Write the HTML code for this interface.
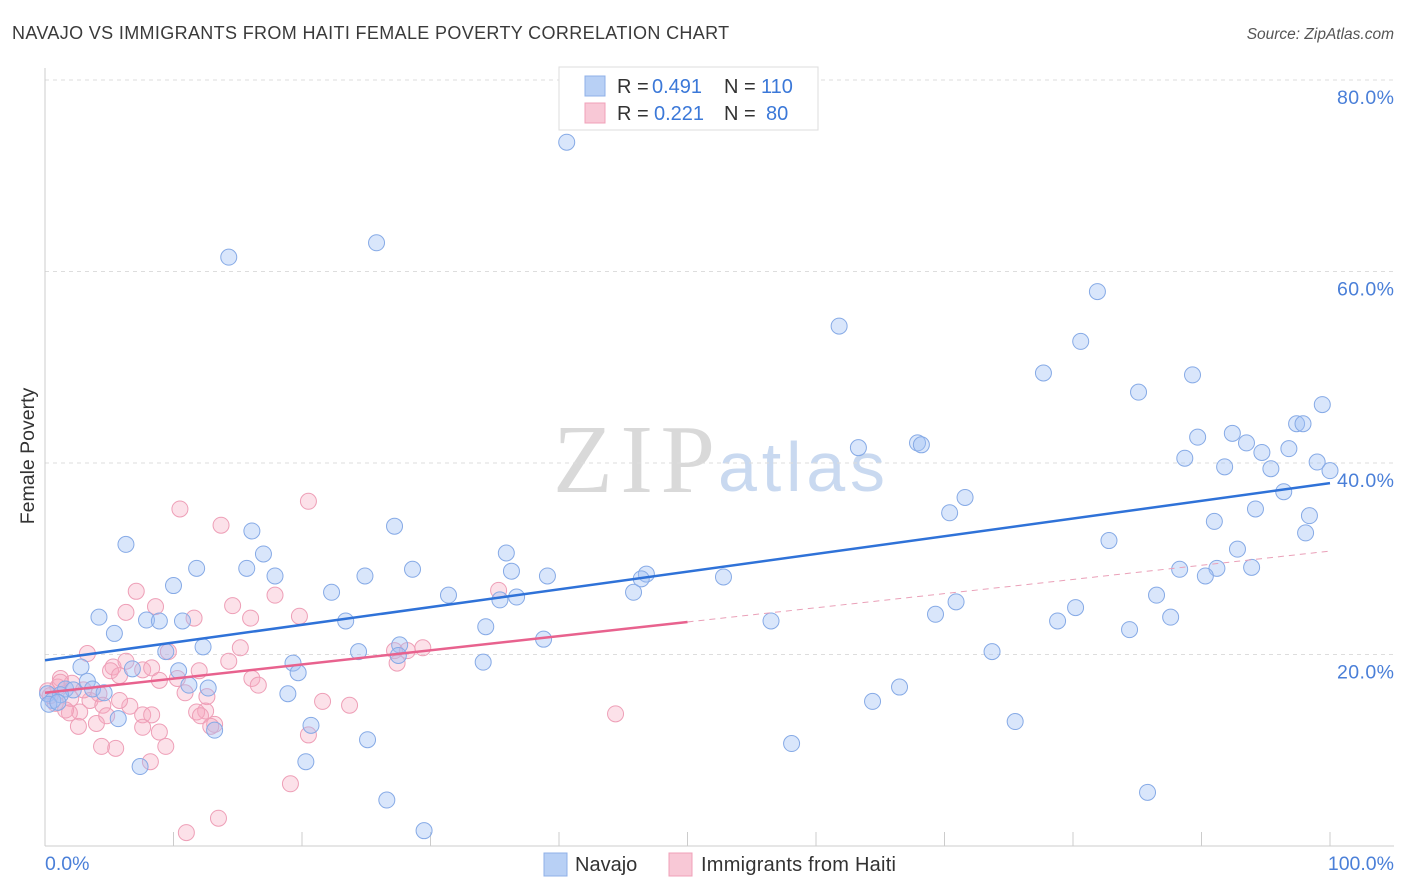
<!DOCTYPE html>
<html><head><meta charset="utf-8"><style>
body{margin:0;background:#fff;font-family:"Liberation Sans",sans-serif;}
</style></head><body>
<svg id="chart" width="1406" height="892" xmlns="http://www.w3.org/2000/svg" style="display:block">
<text x="12" y="39" font-size="18" letter-spacing="0.35" fill="#3a3a3a" font-family="Liberation Sans, sans-serif">NAVAJO VS IMMIGRANTS FROM HAITI FEMALE POVERTY CORRELATION CHART</text>
<text x="1394" y="39" font-size="15.5" fill="#555" text-anchor="end" font-style="italic">Source: ZipAtlas.com</text>
<g>
<text x="553" y="492" font-size="98" fill="#d9d9d9" font-family="Liberation Serif, serif" textLength="162">ZIP</text>
<text x="718" y="491" font-size="70" fill="#c9d9f0" font-family="Liberation Sans, sans-serif" textLength="167">atlas</text>
</g>
<g id="grid"></g>
<g id="axes"></g>
<g id="pinkPts"></g>
<g id="bluePts"></g>
<g id="trends"></g>
<text transform="translate(34,456) rotate(-90)" font-size="19.5" fill="#333" text-anchor="middle">Female Poverty</text>
<text x="45" y="870" font-size="19.5" fill="#4a7fd8">0.0%</text>
<text x="1394" y="870" font-size="19.5" fill="#4a7fd8" text-anchor="end">100.0%</text>
<g>
<rect x="559" y="67" width="259" height="63" fill="#fff" stroke="#ddd"/>
<rect x="585" y="76" width="20" height="20" fill="#b8d0f5" stroke="#8fb0e8"/>
<rect x="585" y="103" width="20" height="20" fill="#f8c8d6" stroke="#f0a0b8"/>
<text font-size="20" fill="#333"><tspan x="617" y="93">R =</tspan><tspan x="652" y="93" fill="#3b78d8">0.491</tspan><tspan x="724" y="93">N =</tspan><tspan x="761" y="93" fill="#3b78d8">110</tspan></text>
<text font-size="20" fill="#333"><tspan x="617" y="120">R =</tspan><tspan x="654" y="120" fill="#3b78d8">0.221</tspan><tspan x="724" y="120">N =</tspan><tspan x="766" y="120" fill="#3b78d8">80</tspan></text>
</g>
<g>
<rect x="544" y="853" width="23" height="23" fill="#b8d0f5" stroke="#8fb0e8"/>
<text x="575" y="871" font-size="20" fill="#333">Navajo</text>
<rect x="669" y="853" width="23" height="23" fill="#f8c8d6" stroke="#f0a0b8"/>
<text x="701" y="871" font-size="20" fill="#333" textLength="195">Immigrants from Haiti</text>
</g>
</svg>
<script>
const yTicks=[20,40,60,80];
const xTicks=[0,10,20,30,40,50,60,70,80,90,100];
const blueX=[40.6,14.3,25.8,81.9,61.8,80.6,77.7,89.3,85.1,99.4,97.4,97.9,92.4,89.7,93.5,67.9,68.2,63.3,96.8,94.7,88.7,99.0,91.8,95.4,100.0,96.4,71.6,94.2,70.4,98.4,91.0,16.1,27.2,98.1,6.3,82.8,17.0,35.9,92.8,11.8,36.3,15.7,28.6,93.9,91.2,88.3,17.9,24.9,39.1,46.8,52.8,46.4,10.0,22.3,31.4,90.3,45.8,35.4,36.7,86.5,70.9,80.2,4.2,69.3,7.9,8.9,10.7,23.4,56.5,78.8,87.6,34.3,84.4,5.4,38.8,12.3,27.6,9.4,24.4,73.7,27.5,34.1,19.3,2.8,10.4,19.7,6.8,3.3,1.6,3.7,2.2,4.6,11.2,12.7,18.9,0.2,1.2,0.6,0.3,1.0,64.4,66.5,5.7,20.7,13.2,75.5,25.1,58.1,20.3,7.4,26.6,85.8,29.5];
const blueY=[73.5,61.5,63.0,57.9,54.3,52.7,49.4,49.2,47.4,46.1,44.1,44.1,43.1,42.7,42.1,42.1,41.9,41.6,41.5,41.1,40.5,40.1,39.6,39.4,39.2,37.0,36.4,35.2,34.8,34.5,33.9,32.9,33.4,32.7,31.5,31.9,30.5,30.6,31.0,29.0,28.7,29.0,28.9,29.1,29.0,28.9,28.2,28.2,28.2,28.4,28.1,27.9,27.2,26.5,26.2,28.2,26.5,25.7,26.0,26.2,25.5,24.9,23.9,24.2,23.6,23.5,23.5,23.5,23.5,23.5,23.9,22.9,22.6,22.2,21.6,20.8,21.0,20.3,20.3,20.3,19.9,19.2,19.1,18.7,18.3,18.1,18.5,17.2,16.4,16.4,16.3,16.0,16.8,16.5,15.9,15.9,15.8,15.2,14.8,15.0,15.1,16.6,13.3,12.6,12.1,13.0,11.1,10.7,8.8,8.3,4.8,5.6,1.6];
const pinkX=[10.5,20.5,13.7,7.1,6.3,8.6,11.6,14.6,17.9,16.0,19.8,35.3,3.3,9.6,5.3,6.3,15.2,14.3,7.6,8.3,5.1,5.8,12.0,27.2,28.2,29.4,27.4,1.2,1.0,2.1,8.9,10.3,16.1,16.6,4.2,3.5,2.0,4.5,12.6,10.9,6.6,5.8,21.6,23.7,2.7,1.9,4.8,7.6,8.3,12.5,11.8,12.1,1.6,2.6,4.0,7.6,8.9,13.2,12.9,20.5,4.4,5.5,9.4,8.2,19.1,13.5,11.0,44.4,0.4,0.8,0.2,1.2,3.0];
const pinkY=[35.2,36.0,33.5,26.6,24.4,25.0,23.8,25.1,26.2,23.8,24.0,26.7,20.1,20.3,18.7,19.3,20.7,19.3,18.4,18.6,18.3,17.8,18.3,20.4,20.4,20.7,19.1,17.5,16.6,17.0,17.3,17.5,17.5,16.8,15.9,15.2,15.4,14.7,15.6,16.0,14.6,15.2,15.1,14.7,14.0,13.9,13.6,13.7,13.7,14.1,14.0,13.6,14.2,12.5,12.8,12.4,11.9,12.7,12.5,11.6,10.4,10.2,10.4,8.8,6.5,2.9,1.4,13.8,15.7,14.9,16.2,17.1,16.3];
const blueTrend=[19.4,37.9];
const pinkTrend=[16.0,30.8];
const pinkSolidEnd=50;
const NS='http://www.w3.org/2000/svg';
function sx(v){return 45+v*12.85;}
function sy(v){return 846-v*9.575;}
function mk(parent,tag,attrs){const e=document.createElementNS(NS,tag);for(const k in attrs)e.setAttribute(k,attrs[k]);document.getElementById(parent).appendChild(e);return e;}
yTicks.forEach(t=>{
 const l=mk('grid','line',{x1:45,x2:1394,y1:sy(t),y2:sy(t),stroke:'#ddd','stroke-dasharray':'4,4'});
 
 
 const tx=mk('grid','text',{x:1394,y:sy(t)+24,'font-size':19.5,fill:'#4a7fd8','text-anchor':'end',textLength:57});
 tx.textContent=t.toFixed(1)+'%';
 
 
});
const ax=mk('axes','line',{x1:45,x2:45,y1:68,y2:846,stroke:'#ccc'});


const bx=mk('axes','line',{x1:45,x2:1394,y1:846,y2:846,stroke:'#ccc'});


xTicks.forEach(t=>{
 const l=mk('axes','line',{x1:sx(t),x2:sx(t),y1:832,y2:846,stroke:'#ccc'});
 
 
});
blueX.forEach((v,i)=>{
 const c=mk('bluePts','circle',{cx:sx(v),cy:sy(blueY[i]),r:8,fill:'rgba(160,192,245,0.4)',stroke:'#86aae6','stroke-width':1});
 
 
});
pinkX.forEach((v,i)=>{
 const c=mk('pinkPts','circle',{cx:sx(v),cy:sy(pinkY[i]),r:8,fill:'rgba(245,170,192,0.35)',stroke:'#ee9fb7','stroke-width':1});
 
 
});
const bt=mk('trends','line',{x1:sx(0),y1:sy(blueTrend[0]),x2:sx(100),y2:sy(blueTrend[1]),stroke:'#2f72d8','stroke-width':2.5});


const pm=pinkTrend[0]+(pinkTrend[1]-pinkTrend[0])*pinkSolidEnd/100;
const pt=mk('trends','line',{x1:sx(0),y1:sy(pinkTrend[0]),x2:sx(pinkSolidEnd),y2:sy(pm),stroke:'#e8628e','stroke-width':2.5});


const pd=mk('trends','line',{x1:sx(pinkSolidEnd),y1:sy(pm),x2:sx(100),y2:sy(pinkTrend[1]),stroke:'#eaa0b8','stroke-width':1,'stroke-dasharray':'6,5'});


</script>
</body></html>
